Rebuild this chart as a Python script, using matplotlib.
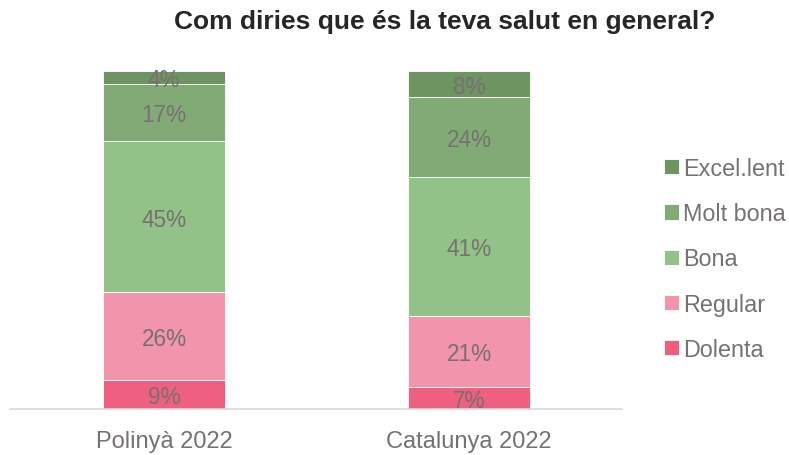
import numpy as np
import matplotlib
matplotlib.use("Agg")
import matplotlib.pyplot as plt

plt.rcParams['font.family'] = ['Liberation Sans', 'DejaVu Sans']

# data
groups = ['Polinyà 2022', 'Catalunya 2022']
categories = ['Dolenta', 'Regular', 'Bona', 'Molt bona', 'Excel.lent']
polinya = [8.6, 26.0, 44.6, 17.1, 3.7]
catalunya = [6.6, 21.0, 41.1, 23.7, 7.6]
colors = ['#ee5f80', '#f294ab', '#93c288', '#82aa76', '#6e9461']

values = np.array([polinya, catalunya])
x = np.arange(len(groups))

fig = plt.figure(figsize=(7.89, 4.56), dpi=100)
ax = fig.add_axes([0.0127, 0.1009, 0.7757, 0.7412])

txt_color = '#767171'
bottom = np.zeros(len(groups))
handles = []
for j, cat in enumerate(categories):
    vals = values[:, j]
    b = ax.bar(x, vals, width=0.4, bottom=bottom, color=colors[j],
               edgecolor='white', linewidth=0.6, label=cat)
    handles.append(b)
    for xi, v, b0 in zip(x, vals, bottom):
        ax.text(xi, b0 + v / 2, f'{round(v):d}%', ha='center',
                va='center_baseline', fontsize=16.3, color=txt_color)
    bottom += vals

ax.set_xlim(-0.505, 1.502)
ax.set_ylim(0, 100)
ax.set_yticks([])
ax.set_xticks(x)
ax.set_xticklabels(groups, fontsize=17, color=txt_color)
ax.tick_params(axis='x', length=0, pad=15)
for s in ['top', 'right', 'left']:
    ax.spines[s].set_visible(False)
ax.spines['bottom'].set_color('#d9d9d9')
ax.spines['bottom'].set_linewidth(1.2)

leg = fig.legend(handles[::-1], categories[::-1], loc='center left',
                 bbox_to_anchor=(0.83, 0.43), frameon=False, fontsize=16.8,
                 handlelength=0.62, handleheight=0.62, handletextpad=0.2,
                 labelspacing=0.95, borderaxespad=0)
for t in leg.get_texts():
    t.set_color(txt_color)

fig.text(0.564, 0.952, 'Com diries que és la teva salut en general?',
         ha='center', va='center', fontsize=19, fontweight='bold',
         color='#262626')

fig.savefig('out.png', dpi=100)
